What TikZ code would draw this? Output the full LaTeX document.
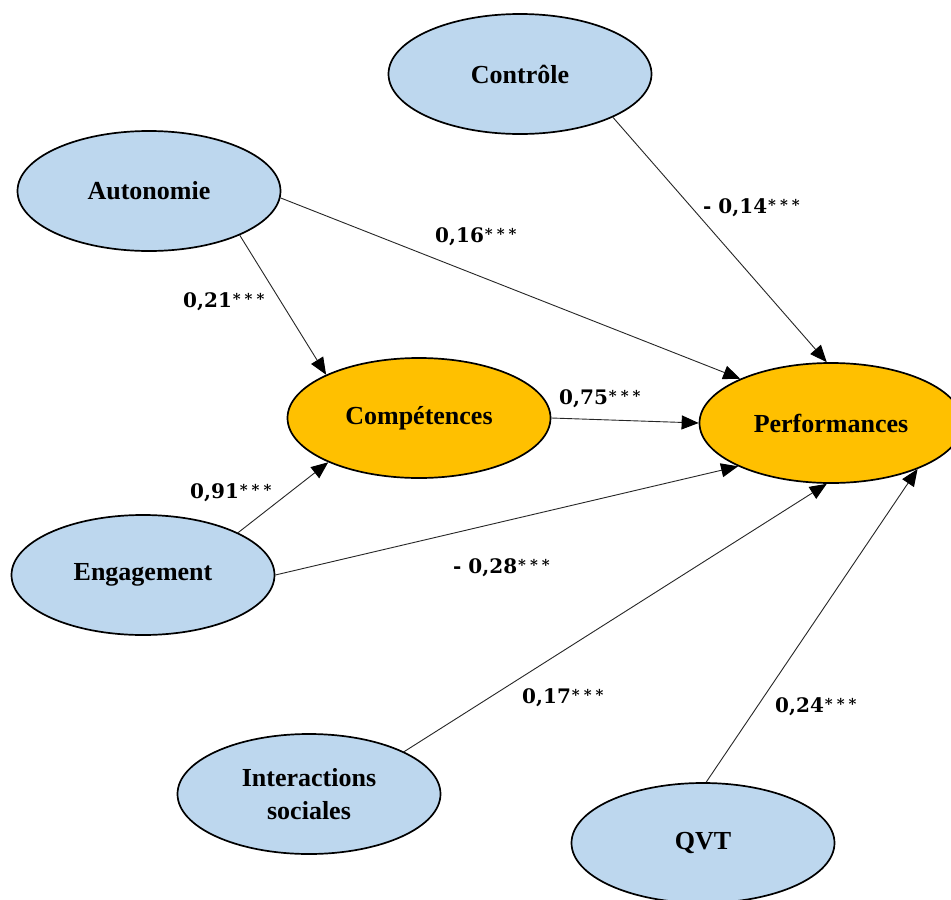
\documentclass[tikz,border=0pt]{standalone}
\usepackage{fontspec}
\setmainfont{Liberation Serif}
\newfontfamily\labfont{DejaVu Serif}
\usetikzlibrary{shapes.geometric,arrows.meta}
\definecolor{lblue}{HTML}{BDD7EE}
\definecolor{gold}{HTML}{FFC000}
\newcommand{\sigst}{\hspace{1pt}\raisebox{2.5pt}{\fontsize{15}{15}\selectfont *\hspace{4pt}*\hspace{4pt}*}}
\tikzset{
  var/.style={ellipse, draw=black, line width=1.7pt, minimum width=263pt, minimum height=120pt, inner sep=0pt, font=\fontsize{26}{33}\selectfont\bfseries, align=center},
  exo/.style={var, fill=lblue},
  endo/.style={var, fill=gold},
  arr/.style={draw=black!85, line width=0.9pt, -{Triangle[length=17pt,width=14pt,color=black]}},
  coef/.style={font=\labfont\bfseries\fontsize{20}{23}\selectfont, inner sep=0pt, anchor=base west}
}
\begin{document}
\begin{tikzpicture}[x=1pt,y=-1pt]
\clip (0,0) rectangle (951,900);
\fill[white] (0,0) rectangle (951,900);
\node[exo] (ctrl) at (520,74) {Contrôle};
\node[exo] (auto) at (149,191) {Autonomie};
\node[endo] (comp) at (419,418) {Compétences};
\node[endo] (perf) at (831,423) {Performances};
\node[exo] (eng) at (143,575) {Engagement};
\node[exo] (inter) at (309,794) {Interactions\\sociales};
\node[exo] (qvt) at (703,843) {QVT};

\draw[arr] (ctrl.-25) -- (perf.94);
\draw[arr] (auto.-3) -- (perf.154);
\draw[arr] (auto.-26) -- (comp.155);
\draw[arr] (comp.east) -- (perf.west);
\draw[arr] (eng.24) -- (comp.206);
\draw[arr] (eng.east) -- (perf.205);
\draw[arr] (inter.24) -- (perf.266);
\draw[arr] (qvt.87) -- (perf.-28);

\node[coef] (l14) at (703,213) {- 0,14\sigst};
\node[coef] (l16) at (435,242) {0,16\sigst};
\node[coef] (l21) at (183,307) {0,21\sigst};
\node[coef] (l75) at (559,404) {0,75\sigst};
\node[coef] (l91) at (190,498) {0,91\sigst};
\node[coef] (l28) at (453,573) {- 0,28\sigst};
\node[coef] (l17) at (522,703) {0,17\sigst};
\node[coef] (l24) at (775,712) {0,24\sigst};
\end{tikzpicture}
\end{document}
